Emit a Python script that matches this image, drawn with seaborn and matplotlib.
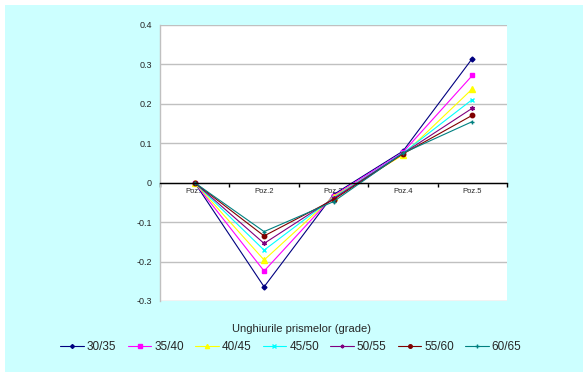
import matplotlib
matplotlib.use("Agg")
import matplotlib.pyplot as plt
import matplotlib.patches as mpatches
import seaborn as sns
import pandas as pd

positions = ["Poz.1", "Poz.2", "Poz.3", "Poz.4", "Poz.5"]
series_names = ["30/35", "35/40", "40/45", "45/50", "50/55", "55/60", "60/65"]
s30_35 = [0.0, -0.264, -0.030, 0.080, 0.315]
s35_40 = [0.0, -0.224, -0.033, 0.077, 0.272]
s40_45 = [0.0, -0.196, -0.035, 0.070, 0.238]
s45_50 = [0.0, -0.171, -0.038, 0.075, 0.211]
s50_55 = [0.0, -0.154, -0.040, 0.074, 0.189]
s55_60 = [0.0, -0.135, -0.043, 0.073, 0.171]
s60_65 = [0.0, -0.124, -0.048, 0.075, 0.155]
yticks = [-0.3, -0.2, -0.1, 0, 0.1, 0.2, 0.3, 0.4]
ytick_labels = ["-0.3", "-0.2", "-0.1", "0", "0.1", "0.2", "0.3", "0.4"]
xlabel = "Unghiurile prismelor (grade)"

all_series = [s30_35, s35_40, s40_45, s45_50, s50_55, s55_60, s60_65]
colors = ["#000080", "#FF00FF", "#FFFF00", "#00FFFF", "#800080", "#800000", "#008080"]
markers = ["D", "s", "^", "x", (6, 2, 0), "o", "+"]
msizes = [2.5, 3.2, 3.8, 3.0, 3.2, 3.2, 3.5]

rows = []
for name, vals in zip(series_names, all_series):
    for p, v in zip(positions, vals):
        rows.append({"pos": p, "val": v, "series": name})
df = pd.DataFrame(rows)

sns.set_theme(style="white")
plt.rcParams["font.family"] = ["Liberation Sans", "DejaVu Sans"]

fig = plt.figure(figsize=(5.88, 3.77), dpi=100)
fig.patch.set_facecolor("white")
fig.patches.append(mpatches.Rectangle((5 / 588, 5 / 377), 578 / 588, 367 / 377,
                                      transform=fig.transFigure, facecolor="#CCFFFF",
                                      edgecolor="none", zorder=-10))
ax = fig.add_axes([160 / 588, 1 - 301 / 377, 347 / 588, 276 / 377])
ax.set_facecolor("white")

for name, c, m, ms in zip(series_names, colors, markers, msizes):
    sub = df[df["series"] == name]
    sns.lineplot(data=sub, x="pos", y="val", ax=ax, color=c, marker=m,
                 markersize=ms, linewidth=0.8, markeredgecolor=c, markerfacecolor=c,
                 markeredgewidth=1.0, label=name, sort=False)

ax.set_xlim(-0.5, 4.5)
ax.set_ylim(-0.3, 0.4)
ax.set_yticks(yticks)
ax.set_yticklabels(ytick_labels, fontsize=6.5)
ax.grid(axis="y", color="#C0C0C0", linewidth=1.0)
ax.set_axisbelow(True)
for s in ["top", "right"]:
    ax.spines[s].set_visible(False)
ax.spines["left"].set_color("#C0C0C0")
ax.spines["left"].set_linewidth(1.0)
ax.spines["bottom"].set_position(("data", 0))
ax.spines["bottom"].set_color("black")
ax.spines["bottom"].set_linewidth(1.0)
ax.set_xticks(range(len(positions)))
ax.set_xticklabels(positions, fontsize=5.5)
ax.tick_params(axis="x", which="major", length=0, pad=4)
ax.set_xticks([i - 0.5 for i in range(len(positions) + 1)], minor=True)
ax.tick_params(axis="x", which="minor", length=3, width=1, color="black", direction="out", bottom=True)
ax.tick_params(axis="y", length=0, pad=6)
ax.set_xlabel("")
ax.set_ylabel("")
ax.get_legend().remove()

fig.text(301 / 588, 1 - 329 / 377, xlabel, ha="center", va="center", fontsize=8)
handles, labels = ax.get_legend_handles_labels()
fig.legend(handles, labels, loc="center", bbox_to_anchor=(291 / 588, 1 - 347 / 377),
           ncol=7, frameon=False, fontsize=8.5, handlelength=2.0, handletextpad=0.25,
           columnspacing=0.95, markerscale=0.8)

fig.savefig("out.png", dpi=100, facecolor="white")
